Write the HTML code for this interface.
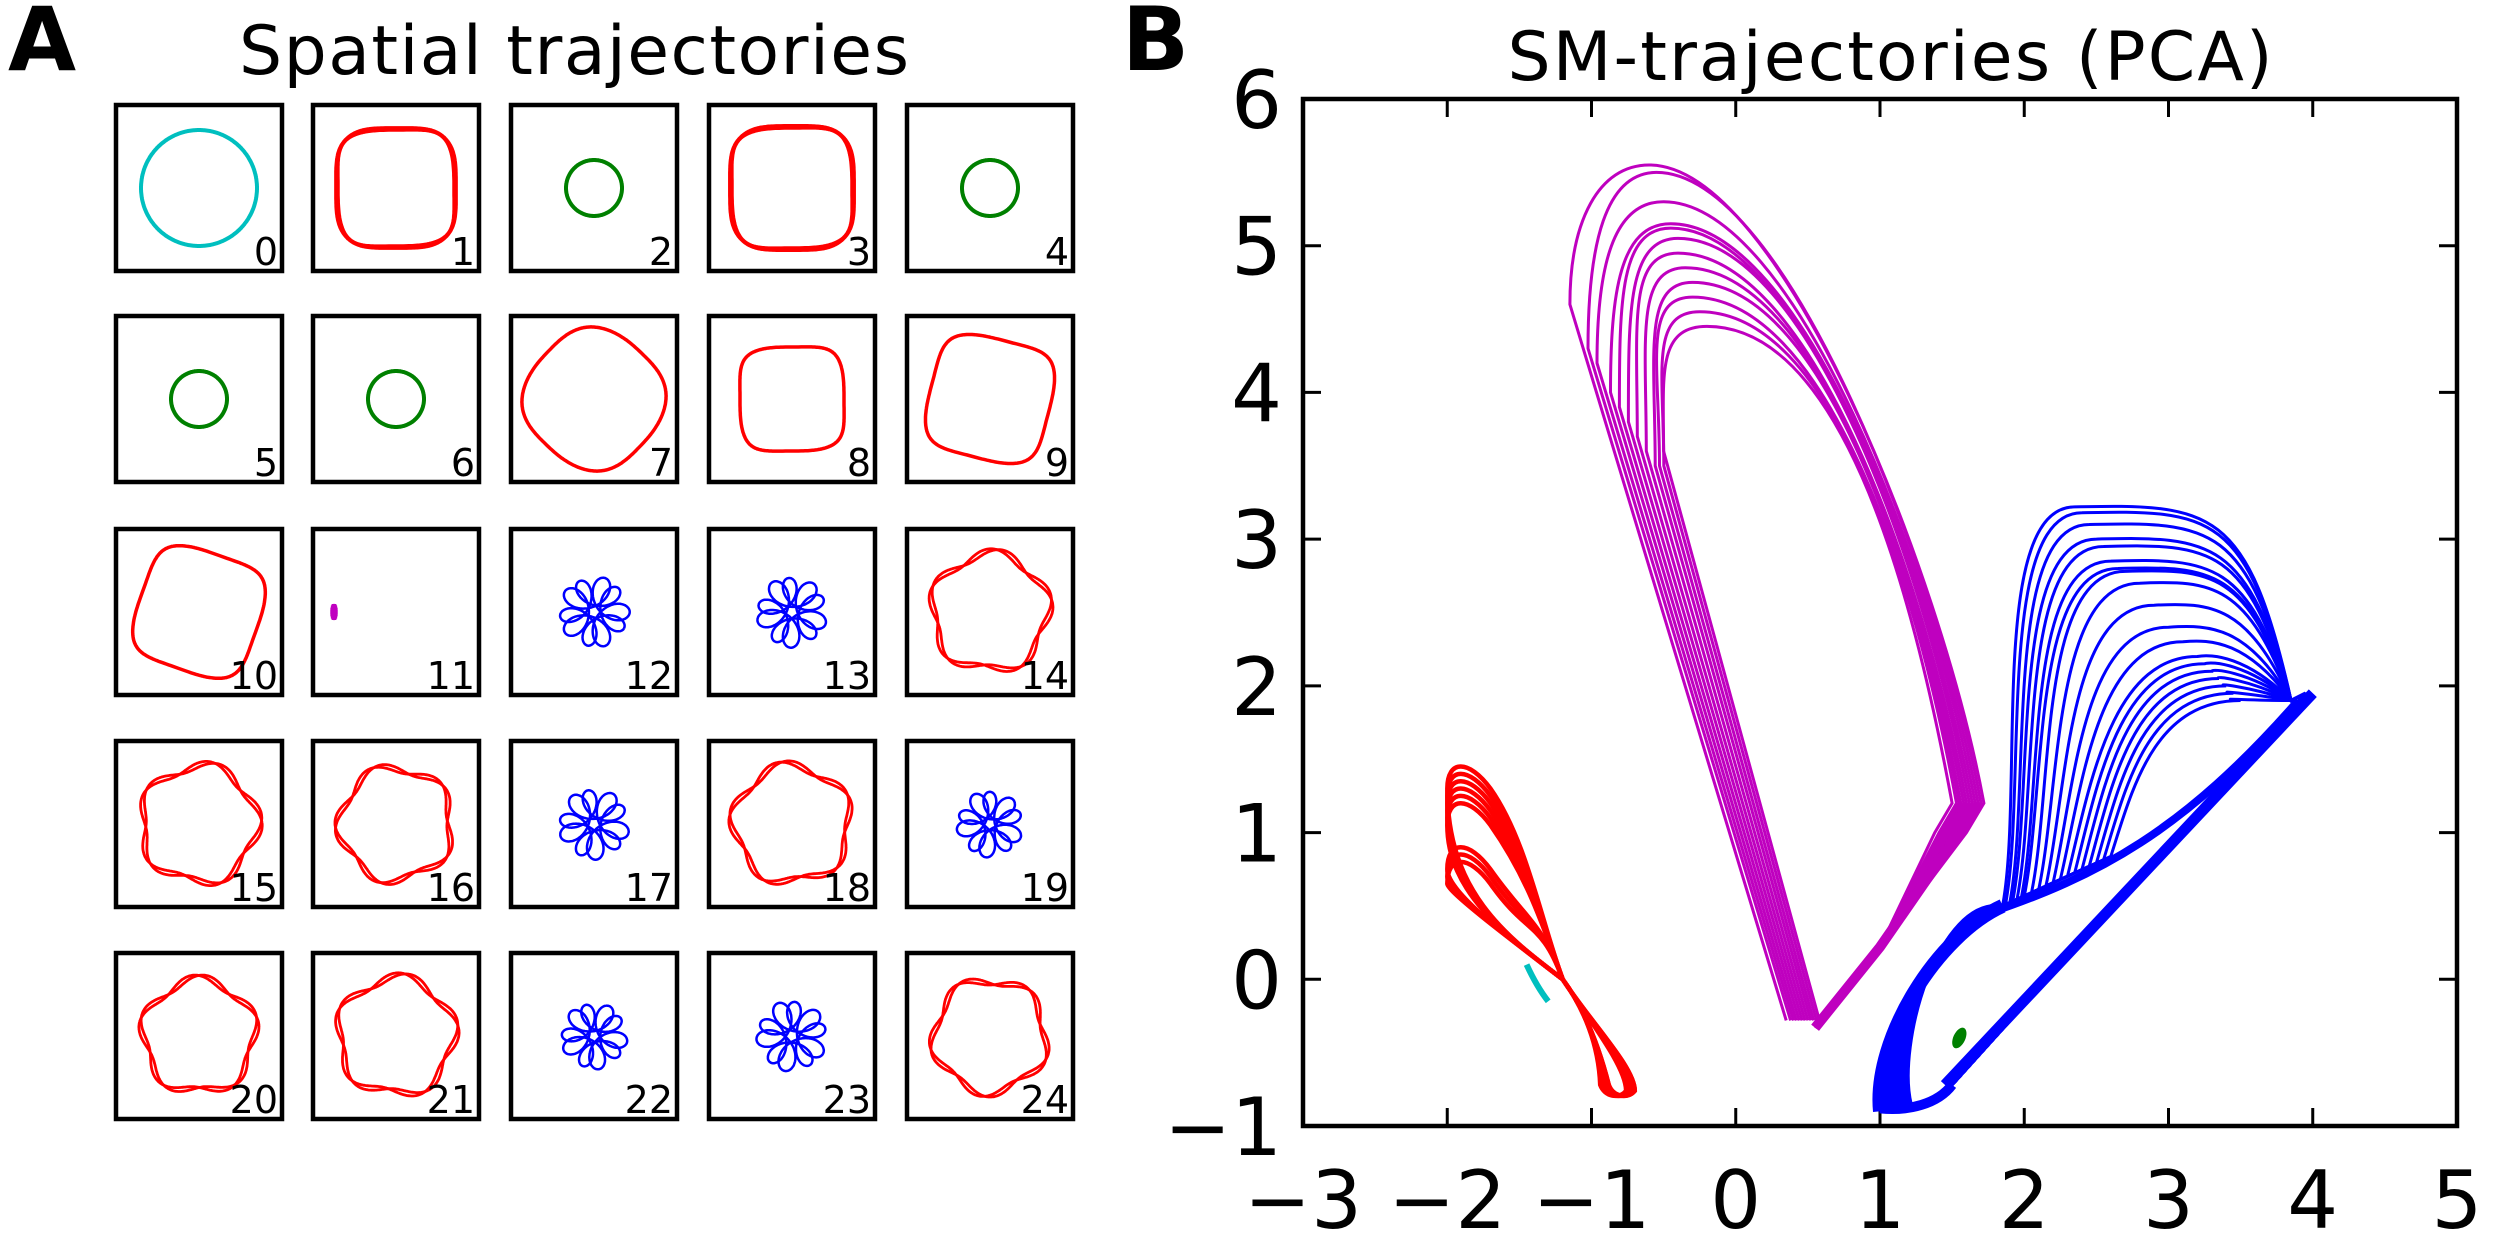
<!DOCTYPE html>
<html><head><meta charset="utf-8"><style>
html,body{margin:0;padding:0;background:#fff;}
svg{display:block;font-family:"DejaVu Sans","Liberation Sans",sans-serif;}
</style></head><body>
<svg id="fig" width="2500" height="1239" viewBox="0 0 2500 1239" xmlns="http://www.w3.org/2000/svg">
<text x="8" y="70" font-size="88" font-weight="bold">A</text>
<text x="574" y="74" font-size="68" text-anchor="middle" textLength="670">Spatial trajectories</text>
<text x="1122" y="70" font-size="88" font-weight="bold">B</text>
<text x="1890" y="80" font-size="68" text-anchor="middle" textLength="765">SM-trajectories (PCA)</text>
<g id="panelA"></g>
<g id="panelB"></g>
</svg>
<script>
const NS="http://www.w3.org/2000/svg";
function mk(tag,attrs,parent){const e=document.createElementNS(NS,tag);for(const k in attrs)e.setAttribute(k,attrs[k]);parent.appendChild(e);return e;}

/* ---------- Panel A data ---------- */
const cellKinds=["circle","sq","circle","sq","circle","circle","circle","sq","sq","sq","sq","dot","flower","flower","pent","pent","pent","flower","pent","flower","pent","pent","flower","flower","pent"];
const cellColors=["#00bfbf","#ff0000","#008000","#ff0000","#008000","#008000","#008000","#ff0000","#ff0000","#ff0000","#ff0000","#bf00bf","#0000ff","#0000ff","#ff0000","#ff0000","#ff0000","#0000ff","#ff0000","#0000ff","#ff0000","#ff0000","#0000ff","#0000ff","#ff0000"];
const cellSizes=[58,58,28,60,28,28,28,66,52,60,60,4,34,34,58,58,56,34,58,32,56,58,32,34,56];
const cellRot=[0,0,0,0,0,0,0,45,0,15,20,0,0,20,10,30,5,15,40,25,0,20,10,30,15];
const cellTraces=[1,2,1,2,1,1,1,1,1,1,1,1,2,2,2,2,2,2,2,2,2,2,2,2,2];
const colLeft=[116,313,511,709,907];
const rowTop=[105,316,529,741,953];
const boxSize=166;

const pA=document.getElementById('panelA');
for(let i=0;i<25;i++){
  const r=Math.floor(i/5),c=i%5;
  const bx=colLeft[c],by=rowTop[r];
  const g=mk('g',{},pA);
  
  
  const box=mk('rect',{x:bx,y:by,width:boxSize,height:boxSize,fill:'none',stroke:'#000','stroke-width':4.5},g);
  
  
  const cx=bx+boxSize/2,cy=by+boxSize/2;
  const kind=cellKinds[i],s=cellSizes[i],rot=cellRot[i]*Math.PI/180,col=cellColors[i];
  for(let t=0;t<cellTraces[i];t++){
    let pts=[];
    const N=400;
    for(let k=0;k<=N;k++){
      const th=k/N*2*Math.PI;let x,y;
      if(kind==="circle"){x=s*Math.cos(th);y=s*Math.sin(th);}
      else if(kind==="sq"){const cc=Math.cos(th),ss=Math.sin(th);
        const w=1+0.012*Math.sin(4*th+t*1.3)+0.025*t;
        const e=(i===7)?0.75:0.5;
        x=s*w*Math.sign(cc)*Math.pow(Math.abs(cc),e);y=s*w*Math.sign(ss)*Math.pow(Math.abs(ss),e);}
      else if(kind==="pent"){const rr=s*(1+0.09*Math.cos(5*th+t*0.9+i));x=rr*Math.cos(th);y=rr*Math.sin(th);}
      else if(kind==="flower"){const a=s*0.6,b=s*0.45*(1-0.1*t),ph=t*0.5;
        x=a*Math.cos(th+ph)+b*Math.cos(-4*th+ph);y=a*Math.sin(th+ph)+b*Math.sin(-4*th+ph);}
      else {x=s*0.5*Math.cos(th);y=s*1.6*Math.sin(th);}
      const X=x*Math.cos(rot)-y*Math.sin(rot),Y=x*Math.sin(rot)+y*Math.cos(rot);
      pts.push((cx+X).toFixed(1)+","+(cy+Y).toFixed(1));
    }
    const sw=(kind==="flower")?2.5:(kind==="pent"?2.8:(kind==="circle"?4:3.5));
    const dx=(kind==="dot")?-62:0;
    const p=mk('polyline',{points:pts.join(" "),fill:kind==="dot"?col:'none',stroke:col,'stroke-width':sw,transform:'translate('+dx+',0)'},g);
    
    
  }
  const lab=mk('text',{x:bx+boxSize-4,y:by+boxSize-6,'font-size':38,'text-anchor':'end'},g);
  lab.textContent=String(i);
  
  
}

/* ---------- Panel B data ---------- */
const xTicks=[-3,-2,-1,0,1,2,3,4,5];
const yTicks=[-1,0,1,2,3,4,5,6];
const magPeakY=[5.55,5.5,5.3,5.15,5.12,5.05,4.95,4.85,4.75,4.65,4.55,4.45];
const magPeakX=[-0.6,-0.55,-0.5,-0.45,-0.45,-0.4,-0.4,-0.35,-0.3,-0.3,-0.25,-0.2];
const magLegY=[4.6,4.3,4.2,4.0,3.9,3.8,3.7,3.6,3.5,3.5,3.5,3.6];
const magEndX=[1.72,1.7,1.68,1.66,1.64,1.62,1.6,1.58,1.56,1.55,1.53,1.5];
const magBottomX=[0.35,0.38,0.4,0.42,0.44,0.46,0.48,0.5,0.52,0.54,0.56,0.58];
const bluePeakY=[3.22,3.18,3.1,3.0,2.95,2.85,2.8,2.78,2.7,2.55,2.4,2.3,2.2,2.15,2.1,2.05,2.0,1.95,1.9];
const blueKneeX=[2.15,2.2,2.25,2.3,2.35,2.4,2.45,2.5,2.6,2.7,2.8,2.9,3.0,3.05,3.1,3.15,3.2,3.25,3.3];
const blueStartX=[1.85,1.87,1.9,1.92,1.95,1.98,2.0,2.05,2.1,2.15,2.2,2.25,2.3,2.35,2.4,2.45,2.5,2.55,2.6];
const redTopY=[1.45,1.4,1.35,1.3,1.25,1.2,0.9,0.85,0.8];
const redLobeX=[-0.7,-0.72,-0.74,-0.7,-0.73,-0.75,-0.71,-0.74,-0.76];

const L=1303,R=2457,T=99,B=1126;
const X=v=>L+(v+3)/8*(R-L);
const Y=v=>B-(v+1)/7*(B-T);
const P=(x,y)=>X(x).toFixed(1)+" "+Y(y).toFixed(1);
const pB=document.getElementById('panelB');

xTicks.forEach(v=>{
  const t1=mk('line',{x1:X(v),x2:X(v),y1:B,y2:B-18,stroke:'#000','stroke-width':3},pB);
  
  const t2=mk('line',{x1:X(v),x2:X(v),y1:T,y2:T+18,stroke:'#000','stroke-width':3},pB);
  
  const lb=mk('text',{x:X(v),y:1228,'font-size':80,'text-anchor':'middle'},pB);
  lb.textContent=(v<0?"\u2212":"")+Math.abs(v);
  
});
yTicks.forEach(v=>{
  const t1=mk('line',{x1:L,x2:L+18,y1:Y(v),y2:Y(v),stroke:'#000','stroke-width':3},pB);
  
  const t2=mk('line',{x1:R,x2:R-18,y1:Y(v),y2:Y(v),stroke:'#000','stroke-width':3},pB);
  
  const lb=mk('text',{x:1282,y:Y(v)+29,'font-size':80,'text-anchor':'end'},pB);
  lb.textContent=(v<0?"\u2212":"")+Math.abs(v);
  
});

// magenta
magPeakY.forEach((pk,i)=>{
  const px=magPeakX[i],ly=magLegY[i],ex=magEndX[i],bx=magBottomX[i];
  const lx=-1.15+(4.6-ly)/4.85*1.55+i*0.03;
  const d="M"+P(bx,-0.28)+" L"+P(lx,ly)+" C"+P(lx,ly+0.6*(pk-ly))+" "+P(px-0.35,pk)+" "+P(px,pk)+
    " C"+P(px+0.9,pk)+" "+P(ex-0.3,2.8)+" "+P(ex,1.2)+" L"+P(ex-0.12,1.0)+" L"+P(1.0,0.22)+" L"+P(0.55,-0.33);
  const p=mk('path',{d:d,fill:'none',stroke:'#bf00bf','stroke-width':3},pB);
  
});
const mb=mk('path',{d:"M"+P(1.55,1.0)+" L"+P(1.0,0.22)+" L"+P(0.55,-0.33),fill:'none',stroke:'#bf00bf','stroke-width':10},pB);


// blue
bluePeakY.forEach((pk,i)=>{
  const kx=blueKneeX[i],sx=blueStartX[i],sy=0.5+(sx-1.85)*0.45;
  const lo=i*0.012;
  const d="M"+P(1.0+lo,-0.85)+" C"+P(0.9+lo,-0.45)+" "+P(1.4,0.35+lo)+" "+P(1.85,0.5)+
    " L"+P(sx,sy)+
    " C"+P(sx+0.15,Math.min(1.3,pk-0.3))+" "+P(kx-0.4,pk)+" "+P(kx+0.2,pk)+
    " C"+P(3.3,pk+0.02)+" "+P(3.55,pk)+" "+P(3.85,1.9)+
    " L"+P(3.95,1.95)+" L"+P(1.5,-0.72)+" C"+P(1.3,-0.88)+" "+P(1.1,-0.9)+" "+P(1.0+lo,-0.85);
  const p=mk('path',{d:d,fill:'none',stroke:'#0000ff','stroke-width':3},pB);
  
});
const bd1=mk('path',{d:"M"+P(1.45,-0.72)+" L"+P(4.0,1.95),fill:'none',stroke:'#0000ff','stroke-width':11},pB);

const bd2=mk('path',{d:"M"+P(1.75,0.45)+" C"+P(2.5,0.7)+" "+P(3.1,1.0)+" "+P(3.9,1.9),fill:'none',stroke:'#0000ff','stroke-width':8},pB);

const bd3=mk('path',{d:"M"+P(1.0,-0.9)+" C"+P(0.95,-0.4)+" "+P(1.4,0.3)+" "+P(1.85,0.5),fill:'none',stroke:'#0000ff','stroke-width':14},pB);

const bd4=mk('path',{d:"M"+P(1.0,-0.88)+" C"+P(1.2,-0.9)+" "+P(1.4,-0.85)+" "+P(1.5,-0.72),fill:'none',stroke:'#0000ff','stroke-width':10},pB);


// red
redTopY.forEach((tp,i)=>{
  const lx=redLobeX[i];
  const d="M"+P(-1.2,0)+" C"+P(-1.6,0.3)+" "+P(-2.0,0.6)+" "+P(-2.0,tp-0.15)+
    " C"+P(-2.0,tp+0.05)+" "+P(-1.85,tp+0.05)+" "+P(-1.7,tp-0.15)+
    " C"+P(-1.45,tp-0.5)+" "+P(-1.35,0.4)+" "+P(-1.2,0)+
    " C"+P(-1.0,-0.3)+" "+P(lx,-0.6)+" "+P(lx,-0.76)+
    " C"+P(lx-0.05,-0.82)+" "+P(lx-0.15,-0.8)+" "+P(lx-0.18,-0.72)+
    " C"+P(-0.95,-0.45)+" "+P(-1.05,-0.2)+" "+P(-1.2,0)+" Z";
  const p=mk('path',{d:d,fill:'none',stroke:'#ff0000','stroke-width':4.5},pB);
  
});
const cy=mk('path',{d:"M"+P(-1.45,0.1)+" Q"+P(-1.38,-0.05)+" "+P(-1.3,-0.15),fill:'none',stroke:'#00bfbf','stroke-width':6},pB);

const gr=mk('ellipse',{cx:X(1.55),cy:Y(-0.4),rx:6,ry:11,fill:'#008000',transform:'rotate(25 '+X(1.55)+' '+Y(-0.4)+')'},pB);


const frame=mk('rect',{x:L,y:T,width:R-L,height:B-T,fill:'none',stroke:'#000','stroke-width':4.5},pB);

</script>
</body></html>
